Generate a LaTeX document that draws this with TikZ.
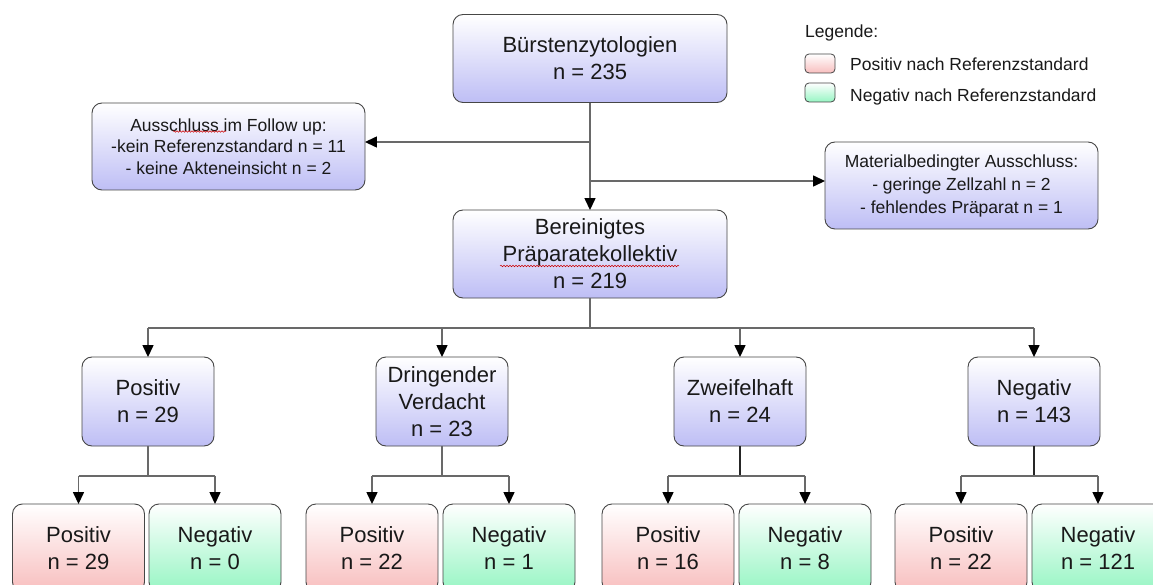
\documentclass[tikz,border=0pt]{standalone}
\usepackage{fontspec}
\setmainfont{Liberation Sans}
\usetikzlibrary{arrows.meta,decorations.pathmorphing,calc}
\definecolor{lav}{RGB}{190,190,245}
\definecolor{pinkb}{RGB}{248,190,190}
\definecolor{greenb}{RGB}{150,245,195}
\definecolor{bord}{RGB}{70,70,70}
\definecolor{conn}{RGB}{105,105,105}
\definecolor{txt}{RGB}{25,25,25}
\begin{document}
\begin{tikzpicture}[x=1pt,y=-1pt,
  box/.style={draw=bord, line width=0.9pt, rounded corners=10pt, top color=white, bottom color=lav, align=center, inner sep=0pt, text=txt},
  posbox/.style={box, bottom color=pinkb},
  negbox/.style={box, bottom color=greenb},
  bigtxt/.style={font=\fontsize{22}{27}\selectfont},
  smalltxt/.style={font=\fontsize{17.5}{21.5}\selectfont},
  mainsize/.style={minimum width=274pt, minimum height=88pt},
  sidesize/.style={minimum width=273pt, minimum height=87pt},
  lvsize/.style={minimum width=132pt, minimum height=89pt},
  leafsize/.style={minimum width=132pt, minimum height=88pt},
  conn/.style={draw=conn, line width=1.4pt},
  darkconn/.style={draw=black!85, line width=1.8pt},
  arr/.style={conn, -{Triangle[length=12pt,width=11pt,color=black]}, shorten >=-0.5pt},
  legsq/.style={draw=bord, line width=0.8pt, rounded corners=4pt, minimum width=30pt, minimum height=19pt, inner sep=0pt},
  legtxt/.style={anchor=west, inner sep=0pt, text=txt, font=\fontsize{17.5}{21}\selectfont},
  spell/.style={draw=red!80!black, line width=0.5pt, decorate, decoration={snake, amplitude=0.8pt, segment length=3pt}}
]
\clip (0,0) rectangle (1153,585);
\fill[white] (0,0) rectangle (1153,585);

% main column
\node[box,bigtxt,mainsize] (top) at (590,58.5) {Bürstenzytologien\\n = 235};
\node[box,bigtxt,mainsize] (mid) at (590,254) {Bereinigtes\\Präparatekollektiv\\n = 219};
\node[box,smalltxt,sidesize] (left) at (228.5,146.5) {Ausschluss im Follow up:\\-kein Referenzstandard n = 11\\- keine Akteneinsicht n = 2};
\node[box,smalltxt,sidesize,font=\fontsize{17.5}{23}\selectfont] (right) at (961.5,185.5) {Materialbedingter Ausschluss:\\- geringe Zellzahl n = 2\\- fehlendes Präparat n = 1};

% spell-check underlines
\draw[spell] (173,131.5) -- (226,131.5);
\draw[spell] (500,266) -- (679,266);

% legend
\node[legtxt] (leg) at (805,33) {Legende:};
\node[legsq, top color=white, bottom color=pinkb] (lp) at (820,63.5) {};
\node[legsq, top color=white, bottom color=greenb] (ln) at (820,92.5) {};
\node[legtxt] (lpt) at (850,64) {Positiv nach Referenzstandard};
\node[legtxt] (lnt) at (850,97) {Negativ nach Referenzstandard};

% level 2
\node[box,bigtxt,lvsize] (p) at (148,401.5) {Positiv\\n = 29};
\node[box,bigtxt,lvsize] (d) at (442,401.5) {Dringender\\Verdacht\\n = 23};
\node[box,bigtxt,lvsize] (z) at (740,401.5) {Zweifelhaft\\n = 24};
\node[box,bigtxt,lvsize] (n) at (1034,401.5) {Negativ\\n = 143};

% leaves
\node[posbox,bigtxt,leafsize] (pp) at (78.5,548) {Positiv\\n = 29};
\node[negbox,bigtxt,leafsize] (pn) at (215,548) {Negativ\\n = 0};
\node[posbox,bigtxt,leafsize] (dp) at (372,548) {Positiv\\n = 22};
\node[negbox,bigtxt,leafsize] (dn) at (509,548) {Negativ\\n = 1};
\node[posbox,bigtxt,leafsize] (zp) at (668,548) {Positiv\\n = 16};
\node[negbox,bigtxt,leafsize] (zn) at (805,548) {Negativ\\n = 8};
\node[posbox,bigtxt,leafsize] (np) at (961,548) {Positiv\\n = 22};
\node[negbox,bigtxt,leafsize] (nn) at (1098,548) {Negativ\\n = 121};

% connectors top part
\coordinate (jl) at (590,142);
\coordinate (jr) at (590,181);
\draw[arr] (top.south) -- (mid.north);
\draw[arr] (jl) -- (jl -| left.east);
\draw[arr] (jr) -- (jr -| right.west);

% main branch
\coordinate (br) at (590,328);
\draw[conn] (mid.south) -- (br);
\draw[conn] (br -| p.north) -- (br -| n.north);
\foreach \t in {p,d,z,n}{
  \draw[arr] (br -| \t.north) -- (\t.north);
}

% sub branches
\foreach \a/\l/\r/\st in {p/pp/pn/conn, d/dp/dn/conn, z/zp/zn/darkconn, n/np/nn/darkconn}{
  \coordinate (s\a) at ($(\a.south)+(0,29.5)$);
  \draw[\st] (\a.south) -- (s\a);
  \draw[conn] (s\a -| \l.north) -- (s\a -| \r.north);
  \draw[arr] (s\a -| \l.north) -- (\l.north);
  \draw[arr] (s\a -| \r.north) -- (\r.north);
}
\end{tikzpicture}
\end{document}
